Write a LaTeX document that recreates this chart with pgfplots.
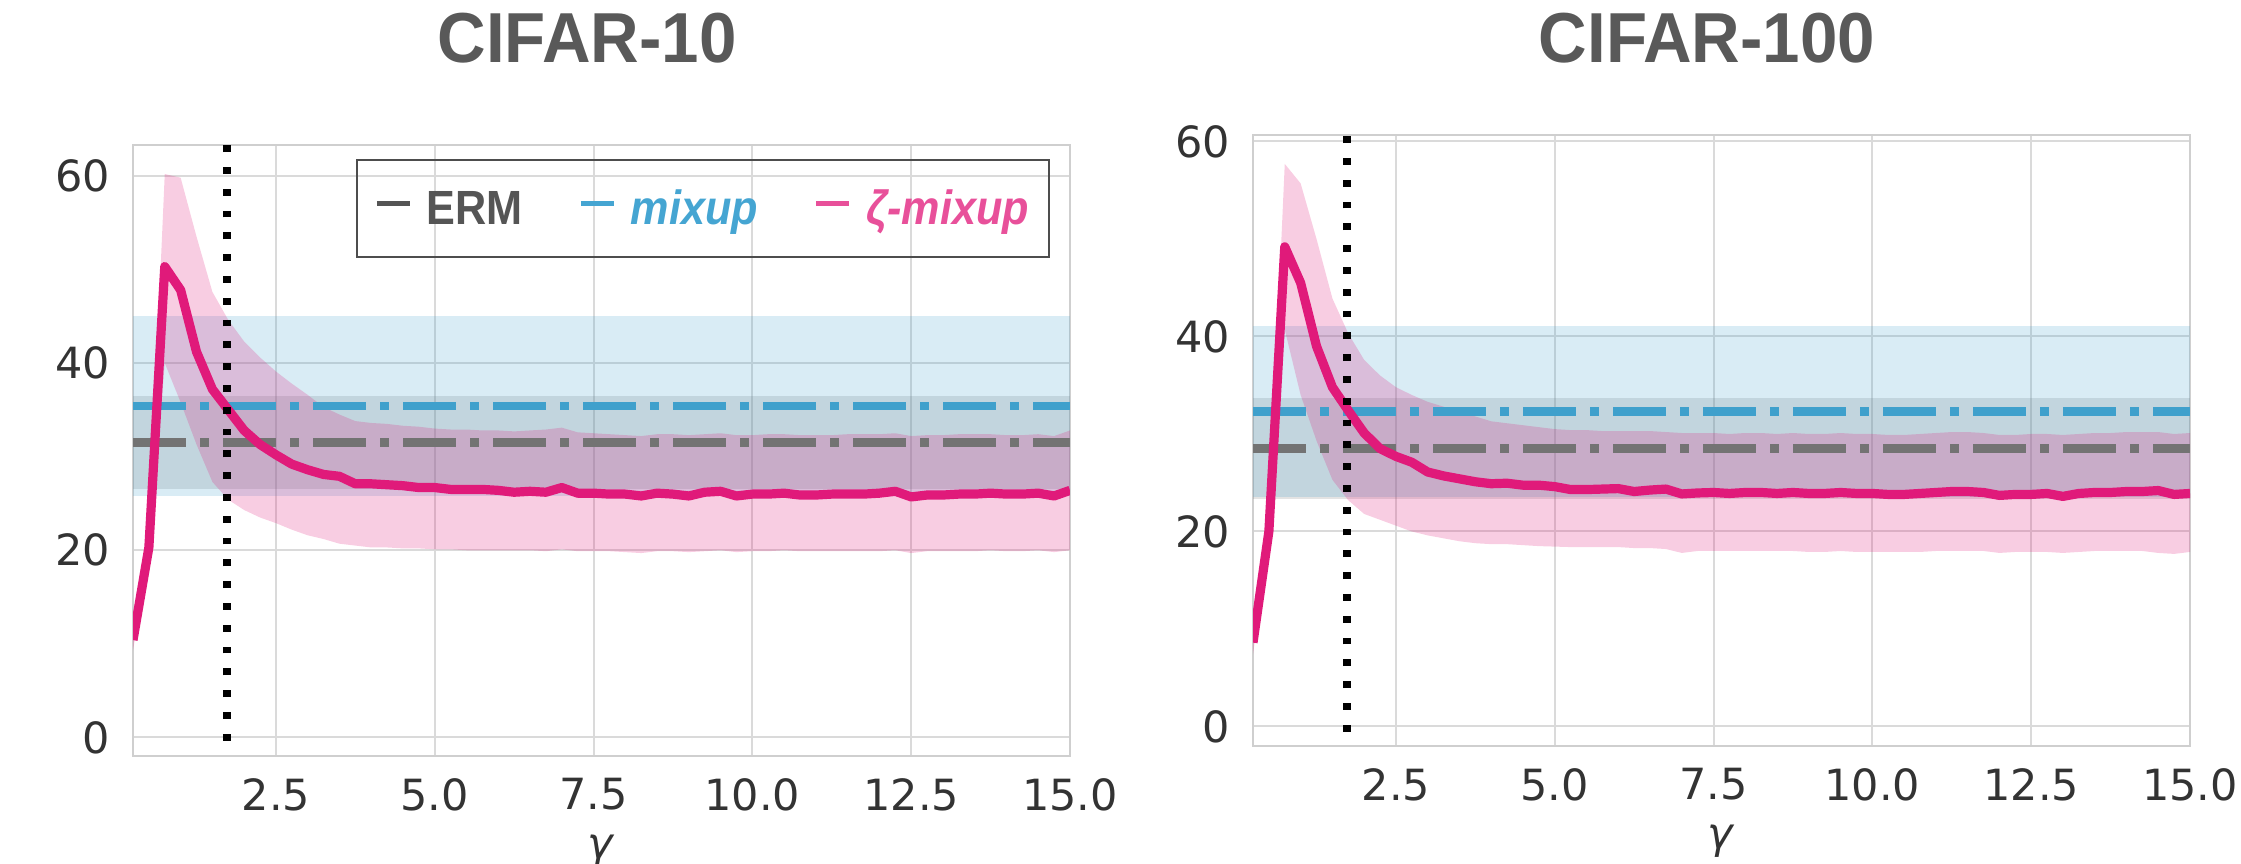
\documentclass[border=0pt]{standalone}
\usepackage{pgfplots}
\pgfplotsset{compat=1.18}
\usepackage{pgfplotstable}
\usepackage{fontspec}
\setmainfont{DejaVu Sans}
\newfontfamily\titlefont[FakeStretch=0.95]{Liberation Sans}
\newfontfamily\legfont[FakeStretch=0.9]{Liberation Sans}

\definecolor{ermline}{HTML}{737373}
\definecolor{mixline}{HTML}{3FA0CC}
\definecolor{zetaline}{HTML}{E01A7A}
\definecolor{ermtext}{HTML}{555555}
\definecolor{mixtext}{HTML}{45A5D2}
\definecolor{zetatext}{HTML}{E8509A}
\definecolor{gridc}{HTML}{DADADA}
\definecolor{framec}{HTML}{CFCFCF}
\definecolor{tickc}{HTML}{333333}
\definecolor{titlec}{HTML}{595959}
\definecolor{legframe}{HTML}{4D4D4D}

% CIFAR-10 zeta-mixup mean
\pgfplotstableread{
x m
0.25 10.4
0.50 20.3
0.75 50.3
1.00 47.8
1.25 41.2
1.50 37.2
1.75 35.0
2.00 32.8
2.25 31.3
2.50 30.2
2.75 29.2
3.00 28.6
3.25 28.1
3.50 27.9
3.75 27.1
4.00 27.1
4.25 27.0
4.50 26.9
4.75 26.7
5.00 26.7
5.25 26.5
5.50 26.5
5.75 26.5
6.00 26.4
6.25 26.2
6.50 26.3
6.75 26.2
7.00 26.7
7.25 26.1
7.50 26.1
7.75 26.0
8.00 26.0
8.25 25.8
8.50 26.1
8.75 26.0
9.00 25.8
9.25 26.2
9.50 26.3
9.75 25.8
10.00 26.0
10.25 26.0
10.50 26.1
10.75 25.9
11.00 25.9
11.25 26.0
11.50 26.0
11.75 26.0
12.00 26.1
12.25 26.3
12.50 25.7
12.75 25.9
13.00 25.9
13.25 26.0
13.50 26.0
13.75 26.1
14.00 26.0
14.25 26.0
14.50 26.1
14.75 25.8
15.00 26.4
}\cifarten

% CIFAR-10 zeta-mixup band outline (upper edge forward, lower edge back)
\pgfplotstableread{
x y
0.25 12.0
0.50 21.6
0.75 60.2
1.00 59.8
1.25 53.5
1.50 47.6
1.75 44.6
2.00 42.3
2.25 40.6
2.50 39.1
2.75 37.8
3.00 36.6
3.25 35.3
3.50 34.5
3.75 33.8
4.00 33.6
4.25 33.5
4.50 33.3
4.75 33.2
5.00 33.0
5.25 32.9
5.50 32.9
5.75 32.8
6.00 32.8
6.25 32.7
6.50 32.8
6.75 32.9
7.00 33.1
7.25 32.6
7.50 32.5
7.75 32.4
8.00 32.3
8.25 32.2
8.50 32.4
8.75 32.4
9.00 32.3
9.25 32.4
9.50 32.5
9.75 32.3
10.00 32.3
10.25 32.4
10.50 32.4
10.75 32.3
11.00 32.3
11.25 32.3
11.50 32.4
11.75 32.4
12.00 32.4
12.25 32.5
12.50 32.2
12.75 32.3
13.00 32.3
13.25 32.4
13.50 32.4
13.75 32.4
14.00 32.3
14.25 32.3
14.50 32.4
14.75 32.2
15.00 32.8
15.00 20.0
14.75 19.8
14.50 20.0
14.25 19.9
14.00 19.9
13.75 20.0
13.50 19.9
13.25 19.9
13.00 19.9
12.75 19.9
12.50 19.7
12.25 20.0
12.00 19.9
11.75 19.9
11.50 19.9
11.25 19.9
11.00 19.9
10.75 19.9
10.50 20.0
10.25 19.9
10.00 19.9
9.75 19.8
9.50 20.0
9.25 19.9
9.00 19.8
8.75 19.9
8.50 19.9
8.25 19.7
8.00 19.8
7.75 19.9
7.50 19.9
7.25 19.9
7.00 20.1
6.75 19.9
6.50 20.0
6.25 20.0
6.00 20.0
5.75 20.0
5.50 20.0
5.25 20.1
5.00 20.1
4.75 20.2
4.50 20.2
4.25 20.3
4.00 20.3
3.75 20.5
3.50 20.7
3.25 21.2
3.00 21.6
2.75 22.2
2.50 22.9
2.25 23.5
2.00 24.3
1.75 25.4
1.50 27.3
1.25 31.3
1.00 35.8
0.75 40.0
0.50 19.2
0.25 9.3
}\cifartenband

% CIFAR-100 zeta-mixup mean
\pgfplotstableread{
x m
0.25 8.6
0.50 20.0
0.75 49.2
1.00 45.5
1.25 39.0
1.50 34.8
1.75 32.4
2.00 30.1
2.25 28.5
2.50 27.7
2.75 27.1
3.00 26.1
3.25 25.7
3.50 25.4
3.75 25.1
4.00 24.9
4.25 24.95
4.50 24.75
4.75 24.75
5.00 24.6
5.25 24.3
5.50 24.3
5.75 24.35
6.00 24.4
6.25 24.1
6.50 24.25
6.75 24.35
7.00 23.85
7.25 23.95
7.50 24.0
7.75 23.9
8.00 24.0
8.25 24.0
8.50 23.9
8.75 24.0
9.00 23.9
9.25 23.9
9.50 24.0
9.75 23.9
10.00 23.9
10.25 23.8
10.50 23.8
10.75 23.9
11.00 24.0
11.25 24.1
11.50 24.1
11.75 24.0
12.00 23.7
12.25 23.8
12.50 23.8
12.75 23.9
13.00 23.6
13.25 23.9
13.50 24.0
13.75 24.0
14.00 24.1
14.25 24.1
14.50 24.2
14.75 23.8
15.00 23.9
}\cifarhundred

% CIFAR-100 zeta-mixup band outline
\pgfplotstableread{
x y
0.25 10.0
0.50 21.2
0.75 57.7
1.00 55.7
1.25 50.0
1.50 43.9
1.75 40.3
2.00 37.6
2.25 36.0
2.50 34.8
2.75 34.0
3.00 33.3
3.25 32.8
3.50 32.3
3.75 31.8
4.00 31.3
4.25 31.1
4.50 30.9
4.75 30.7
5.00 30.5
5.25 30.4
5.50 30.4
5.75 30.3
6.00 30.3
6.25 30.3
6.50 30.3
6.75 30.2
7.00 30.1
7.25 30.1
7.50 30.1
7.75 30.0
8.00 30.1
8.25 30.1
8.50 30.0
8.75 30.1
9.00 30.0
9.25 30.0
9.50 30.1
9.75 30.0
10.00 30.0
10.25 29.9
10.50 29.9
10.75 30.0
11.00 30.1
11.25 30.2
11.50 30.2
11.75 30.1
12.00 29.9
12.25 29.9
12.50 30.0
12.75 30.0
13.00 29.9
13.25 30.0
13.50 30.1
13.75 30.1
14.00 30.2
14.25 30.2
14.50 30.2
14.75 30.0
15.00 30.1
15.00 17.9
14.75 17.7
14.50 17.8
14.25 18.0
14.00 18.0
13.75 18.0
13.50 18.0
13.25 17.9
13.00 17.8
12.75 17.9
12.50 17.9
12.25 17.9
12.00 17.8
11.75 18.0
11.50 18.0
11.25 18.0
11.00 18.0
10.75 17.9
10.50 17.9
10.25 17.9
10.00 17.9
9.75 17.9
9.50 18.0
9.25 17.9
9.00 17.9
8.75 18.0
8.50 18.0
8.25 18.0
8.00 18.0
7.75 18.0
7.50 18.0
7.25 18.0
7.00 17.8
6.75 18.2
6.50 18.3
6.25 18.3
6.00 18.4
5.75 18.4
5.50 18.4
5.25 18.4
5.00 18.45
4.75 18.5
4.50 18.6
4.25 18.7
4.00 18.7
3.75 18.8
3.50 19.0
3.25 19.3
3.00 19.6
2.75 20.0
2.50 20.6
2.25 21.2
2.00 21.8
1.75 23.2
1.50 25.3
1.25 29.3
1.00 34.0
0.75 40.7
0.50 18.8
0.25 7.4
}\cifarhundredband

\pgfplotsset{
  panel/.style={
    scale only axis,
    width=234.25pt, height=152.75pt,
    anchor=south west,
    xmin=0.25, xmax=15,
    xtick={2.5,5,7.5,10,12.5,15},
    xticklabels={2.5,5.0,7.5,10.0,12.5,15.0},
    ytick={0,20,40,60},
    yticklabels={0,20,40,60},
    /pgf/number format/assume math mode=true,
    grid=major,
    major grid style={draw=gridc, line width=0.5pt},
    axis line style={draw=framec, line width=0.6pt},
    major tick length=0pt,
    tick label style={font=\fontsize{10.75}{12}\selectfont, text=tickc},
    xticklabel style={yshift=-2pt},
    yticklabel style={xshift=-2.2pt},
    xlabel={\textit{γ}},
    xlabel style={at={(axis description cs:0.5,0)}, anchor=base, yshift=-25.6pt,
      font=\fontsize{10.75}{12}\selectfont, text=tickc},
    title style={anchor=base, font=\titlefont\bfseries\fontsize{17.7}{20}\selectfont, text=titlec},
  },
  dashdot/.style={line width=2.1pt, dash pattern=on 13.25pt off 3.5pt on 2.25pt off 3.5pt},
  dotline/.style={black, line width=2pt, dash pattern=on 1.7pt off 3.75pt},
}
\newcommand{\leghandle}{\rule[4.65pt]{8.25pt}{1.3pt}\hspace{4.25pt}}

\begin{document}
\begin{tikzpicture}
\useasboundingbox (0,0) rectangle (560.25pt,216pt);

% ---------------- CIFAR-10 ----------------
\begin{axis}[panel,
  at={(33.25pt,27pt)},
  ymin=-1.98, ymax=63.3,
  title={CIFAR-10},
  title style={at={(0.4845,1.0949)}},
]
\addplot[draw=none, fill=ermline, fill opacity=0.2] coordinates {(0.25,26.5) (15,26.5) (15,36.5) (0.25,36.5)};
\addplot[draw=none, fill=mixline, fill opacity=0.2] coordinates {(0.25,25.8) (15,25.8) (15,45.0) (0.25,45.0)};
\addplot[draw=none, fill=zetaline, fill opacity=0.22] table[x=x, y=y] {\cifartenband};
\addplot[ermline, dashdot] coordinates {(0.25,31.5) (15,31.5)};
\addplot[mixline, dashdot] coordinates {(0.25,35.4) (15,35.4)};
\addplot[zetaline, line width=2.3pt, line join=round] table[x=x, y=m] {\cifarten};
\addplot[dotline] coordinates {(1.73,-5) (1.73,70)};
% legend
\node[anchor=north east, draw=legframe, line width=0.5pt, outer sep=0pt,
      inner xsep=5pt, inner ysep=0pt, text height=16.25pt, text depth=8pt,
      font=\legfont\bfseries\fontsize{12}{14}\selectfont]
  at (rel axis cs:0.9776,0.9755)
  {\textcolor{ermtext}{\leghandle ERM}\hspace{14.5pt}%
   \textcolor{mixtext}{\leghandle\itshape mixup}\hspace{14.5pt}%
   \textcolor{zetatext}{\leghandle\itshape ζ-mixup}};
\end{axis}

% ---------------- CIFAR-100 ----------------
\begin{axis}[panel,
  at={(313.25pt,29.5pt)},
  ymin=-2.0, ymax=60.67,
  title={CIFAR-100},
  title style={at={(0.4845,1.0786)}},
]
\addplot[draw=none, fill=ermline, fill opacity=0.2] coordinates {(0.25,23.3) (15,23.3) (15,33.7) (0.25,33.7)};
\addplot[draw=none, fill=mixline, fill opacity=0.2] coordinates {(0.25,23.5) (15,23.5) (15,41.1) (0.25,41.1)};
\addplot[draw=none, fill=zetaline, fill opacity=0.22] table[x=x, y=y] {\cifarhundredband};
\addplot[ermline, dashdot] coordinates {(0.25,28.5) (15,28.5)};
\addplot[mixline, dashdot] coordinates {(0.25,32.3) (15,32.3)};
\addplot[zetaline, line width=2.3pt, line join=round] table[x=x, y=m] {\cifarhundred};
\addplot[dotline] coordinates {(1.73,-5) (1.73,70)};
\end{axis}
\end{tikzpicture}
\end{document}
